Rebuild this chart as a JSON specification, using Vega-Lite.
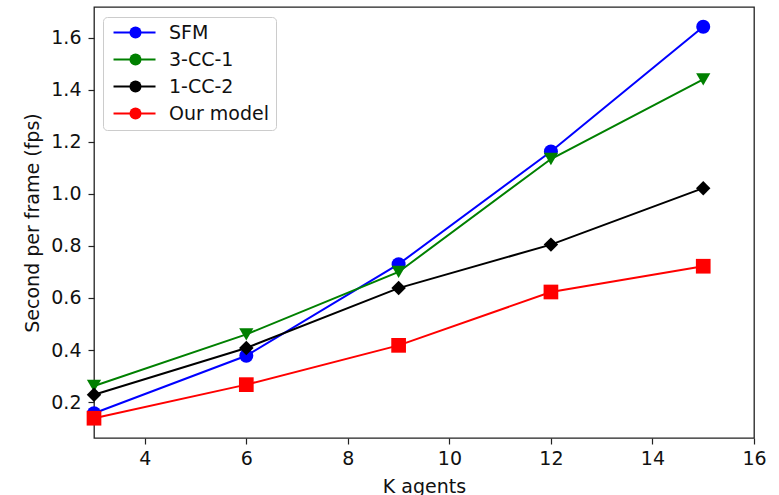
{
  "$schema": "https://vega.github.io/schema/vega-lite/v6.json",
  "width": 660,
  "height": 431,
  "autosize": {"type": "none"},
  "padding": {"left": 94, "top": 7, "right": 25, "bottom": 57},
  "background": "white",
  "config": {
    "view": {"stroke": "#222222", "strokeWidth": 1.3},
    "font": "DejaVu Sans",
    "axis": {
      "grid": false,
      "domain": false,
      "tickColor": "#222222",
      "tickSize": 6,
      "tickWidth": 1.2,
      "labelFont": "DejaVu Sans",
      "labelFontSize": 19,
      "labelColor": "#111111",
      "titleFont": "DejaVu Sans",
      "titleFontSize": 19,
      "titleFontWeight": "normal",
      "titleColor": "#111111"
    }
  },
  "data": {
    "values": [
      {"k": 3, "series": "SFM", "fps": 0.157},
      {"k": 6, "series": "SFM", "fps": 0.378},
      {"k": 9, "series": "SFM", "fps": 0.73},
      {"k": 12, "series": "SFM", "fps": 1.163},
      {"k": 15, "series": "SFM", "fps": 1.642},
      {"k": 3, "series": "3-CC-1", "fps": 0.262},
      {"k": 6, "series": "3-CC-1", "fps": 0.46},
      {"k": 9, "series": "3-CC-1", "fps": 0.70},
      {"k": 12, "series": "3-CC-1", "fps": 1.134},
      {"k": 15, "series": "3-CC-1", "fps": 1.44},
      {"k": 3, "series": "1-CC-2", "fps": 0.228},
      {"k": 6, "series": "1-CC-2", "fps": 0.408},
      {"k": 9, "series": "1-CC-2", "fps": 0.638},
      {"k": 12, "series": "1-CC-2", "fps": 0.805},
      {"k": 15, "series": "1-CC-2", "fps": 1.022},
      {"k": 3, "series": "Our model", "fps": 0.138},
      {"k": 6, "series": "Our model", "fps": 0.267},
      {"k": 9, "series": "Our model", "fps": 0.418},
      {"k": 12, "series": "Our model", "fps": 0.623},
      {"k": 15, "series": "Our model", "fps": 0.722}
    ]
  },
  "encoding": {
    "x": {
      "field": "k",
      "type": "quantitative",
      "title": "K agents",
      "scale": {"domain": [3, 16], "nice": false, "zero": false},
      "axis": {"values": [4, 6, 8, 10, 12, 14, 16], "format": "d", "labelFlush": false, "labelPadding": 5, "titlePadding": 9}
    },
    "y": {
      "field": "fps",
      "type": "quantitative",
      "title": "Second per frame (fps)",
      "scale": {"domain": [0.062, 1.718], "nice": false, "zero": false},
      "axis": {"values": [0.2, 0.4, 0.6, 0.8, 1.0, 1.2, 1.4, 1.6], "format": ".1f", "labelPadding": 7, "titlePadding": 8}
    }
  },
  "resolve": {"legend": {"color": "independent"}},
  "layer": [
    {
      "mark": {"type": "line", "strokeWidth": 2},
      "encoding": {
        "color": {
          "field": "series",
          "type": "nominal",
          "scale": {"domain": ["SFM", "3-CC-1", "1-CC-2", "Our model"], "range": ["#0000ff", "#008000", "#000000", "#ff0000"]},
          "legend": {
            "title": null,
            "orient": "none",
            "legendX": 9,
            "legendY": 10,
            "labelFont": "DejaVu Sans",
            "labelFontSize": 19,
            "labelColor": "#111111",
            "symbolType": "M-0.83,0H6.17",
            "symbolSize": 144,
            "symbolStrokeWidth": 2,
            "rowPadding": 7,
            "padding": 6,
            "labelOffset": 41,
            "strokeColor": "#cccccc",
            "cornerRadius": 4
          }
        }
      }
    },
    {
      "mark": {"type": "point", "filled": true, "opacity": 1},
      "encoding": {
        "color": {
          "field": "series",
          "type": "nominal",
          "scale": {"domain": ["SFM", "3-CC-1", "1-CC-2", "Our model"], "range": ["#0000ff", "#008000", "#000000", "#ff0000"]},
          "legend": {
            "title": null,
            "orient": "none",
            "legendX": 26,
            "legendY": 10,
            "labelFont": "DejaVu Sans",
            "labelFontSize": 19,
            "labelExpr": "''",
            "symbolSize": 144,
            "symbolStrokeWidth": 0,
            "rowPadding": 7,
            "padding": 6,
            "labelOffset": 0
          }
        },
        "shape": {
          "field": "series",
          "type": "nominal",
          "scale": {"domain": ["SFM", "3-CC-1", "1-CC-2", "Our model"], "range": ["circle", "triangle-down", "diamond", "square"]},
          "legend": {
            "title": null,
            "orient": "none",
            "legendX": 26,
            "legendY": 10,
            "labelFont": "DejaVu Sans",
            "labelFontSize": 19,
            "labelExpr": "''",
            "symbolSize": 144,
            "symbolStrokeWidth": 0,
            "rowPadding": 7,
            "padding": 6,
            "labelOffset": 0
          }
        },
        "size": {
          "field": "series",
          "type": "ordinal",
          "scale": {"domain": ["SFM", "3-CC-1", "1-CC-2", "Our model"], "range": [196, 216, 300, 196]},
          "legend": null
        }
      }
    }
  ]
}
